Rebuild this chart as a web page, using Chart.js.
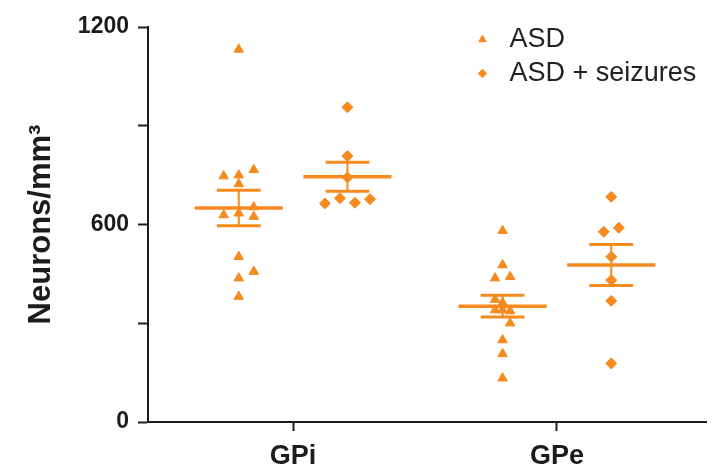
<!DOCTYPE html>
<html><head><meta charset="utf-8">
<script src="https://cdn.jsdelivr.net/npm/chart.js@4/dist/chart.umd.min.js"></script>
<style>html,body{margin:0;padding:0;background:#fff}</style>
</head><body>
<canvas id="c" width="723" height="471"></canvas>
<script>
// ---- data ----
const categories = ['GPi', 'GPe'];
const seriesNames = ['ASD', 'ASD + seizures'];
const yTickLabels = ['0', '600', '1200'];

const asdGPi = [1132, 747, 750, 766, 723, 653, 629, 634, 624, 502, 457, 437, 381];
const asdGPiCol = [0, -1, 0, 1, 0, 1, -1, 0, 1, 0, 1, 0, 0];
const asdGPe = [581, 477, 437, 441, 372, 362, 340, 340, 337, 300, 249, 207, 133];
const asdGPeCol = [0, 0, -0.5, 0.5, -0.5, 0, -0.5, 0, 0.5, 0.5, 0, 0, 0];

const seizGPi = [956, 808, 743, 664, 680, 666, 677];
const seizGPiCol = [0, 0, 0, -1.5, -0.5, 0.5, 1.5];
const seizGPe = [684, 590, 578, 502, 431, 368, 178];
const seizGPeCol = [0, 0.5, -0.5, 0, 0, 0, 0];

const asdMean = [650, 352];
const asdSem = [54, 33];
const seizMean = [745, 477];
const seizSem = [44, 62];

// ---- styling / layout constants ----
const ORANGE = '#F58A1E';
const INK = '#1c1c1c';
const FONT = "'Liberation Sans', Arial, Helvetica, sans-serif";
const GROUP_OFF = 0.206, JIT = 0.057, MEAN_HW = 0.167, CAP_HW = 0.083;

function pts(vals, cols, catIdx, sIdx) {
  const base = catIdx + (sIdx ? GROUP_OFF : -GROUP_OFF);
  return vals.map((v, i) => ({ x: base + cols[i] * JIT, y: v }));
}

const seriesData = [
  pts(asdGPi, asdGPiCol, 0, 0).concat(pts(asdGPe, asdGPeCol, 1, 0)),
  pts(seizGPi, seizGPiCol, 0, 1).concat(pts(seizGPe, seizGPeCol, 1, 1))
];
const means = [asdMean, seizMean];
const sems = [asdSem, seizSem];
const styles = ['triangle', 'rectRot'];

const datasets = [];
function seg(data, w) {
  datasets.push({
    type: 'line', data, borderColor: ORANGE, borderWidth: w,
    pointRadius: 0, fill: false, order: 0, isStat: true
  });
}
for (let s = 0; s < 2; s++) {
  for (let c = 0; c < categories.length; c++) {
    const cx = c + (s ? GROUP_OFF : -GROUP_OFF);
    const m = means[s][c], e = sems[s][c];
    seg([{ x: cx - MEAN_HW, y: m }, { x: cx + MEAN_HW, y: m }], 3.5);
    seg([{ x: cx - CAP_HW, y: m + e }, { x: cx + CAP_HW, y: m + e }], 3);
    seg([{ x: cx - CAP_HW, y: m - e }, { x: cx + CAP_HW, y: m - e }], 3);
    seg([{ x: cx, y: m - e }, { x: cx, y: m + e }], 2);
  }
}
for (let s = 0; s < 2; s++) {
  datasets.push({
    type: 'scatter', label: seriesNames[s], data: seriesData[s],
    pointStyle: styles[s], pointRadius: 5.5, borderWidth: 1,
    backgroundColor: ORANGE, borderColor: ORANGE, order: 1
  });
}

const legendPos = {
  id: 'legendPos',
  afterLayout(chart) {
    const l = chart.legend;
    if (!l) return;
    l.left = 462; l.top = 19; l.right = l.left + l.width;
  }
};

new Chart(document.getElementById('c'), {
  data: { datasets },
  plugins: [legendPos],
  options: {
    responsive: false,
    animation: false,
    layout: { padding: { top: 27, right: 17, left: 0, bottom: 0 } },
    plugins: {
      tooltip: { enabled: false },
      legend: {
        position: 'chartArea',
        align: 'start',
        labels: {
          filter: (item, data) => !data.datasets[item.datasetIndex].isStat,
          usePointStyle: true,
          boxWidth: 27, boxHeight: 6,
          padding: 7,
          color: '#222',
          font: { family: FONT, size: 27 }
        }
      }
    },
    scales: {
      x: {
        type: 'linear', min: -0.55, max: 1.565,
        afterBuildTicks: (sc) => { sc.ticks = categories.map((c, i) => ({ value: i })); },
        afterFit: (sc) => { sc.height = 49; },
        ticks: {
          callback: (v) => categories[v] ?? '',
          color: INK, padding: 9,
          font: { family: FONT, size: 27, weight: 'bold' }
        },
        grid: { drawOnChartArea: false, drawTicks: true, tickLength: 9, tickWidth: 2, tickColor: INK },
        border: { display: true, color: INK, width: 2 }
      },
      y: {
        type: 'linear', min: 0, max: 1200,
        afterFit: (sc) => { sc.width = 148; },
        ticks: {
          stepSize: 300,
          callback: (v) => yTickLabels.includes(String(v)) ? String(v) : '',
          color: INK, padding: 9,
          font: { family: FONT, size: 23, weight: 'bold' }
        },
        grid: { drawOnChartArea: false, drawTicks: true, tickLength: 10, tickWidth: 2, tickColor: INK },
        border: { display: true, color: INK, width: 2 },
        title: {
          display: true, text: 'Neurons/mm³', color: INK,
          font: { family: FONT, size: 31, weight: 'bold' },
          padding: { top: 23, bottom: 0 }
        }
      }
    }
  }
});
</script>
</body></html>
